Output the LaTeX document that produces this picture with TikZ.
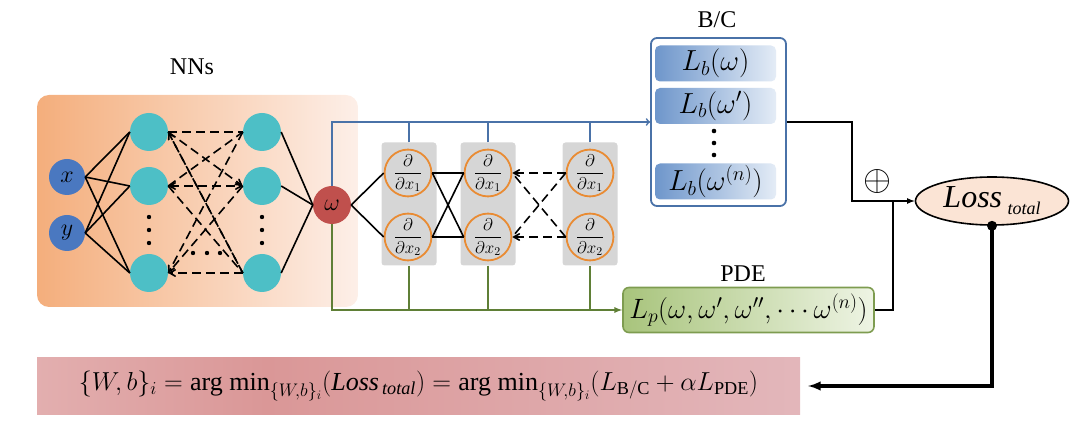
\documentclass[tikz,border=0pt]{standalone}
\usepackage{fix-cm}
\usepackage{amsmath,amssymb}
\usepackage{fontspec}
\setmainfont{Liberation Serif}
\usetikzlibrary{arrows,shapes.geometric,positioning,calc}
\definecolor{in blue}{HTML}{4A78C0}
\definecolor{hid teal}{HTML}{4DBFC6}
\definecolor{omega red}{HTML}{C0504D}
\definecolor{d orange}{HTML}{E98B33}
\definecolor{line blue}{HTML}{4A72A8}
\definecolor{line green}{HTML}{5F7F36}
\definecolor{bar blue}{HTML}{6E96CB}
\definecolor{bar light}{HTML}{E4ECF6}
\definecolor{pde dark}{HTML}{A8C47C}
\definecolor{pde light}{HTML}{EEF4E4}
\definecolor{pde edge}{HTML}{7E9C50}
\definecolor{loss fill}{HTML}{FBE4D5}
\definecolor{nn dark}{HTML}{F4AE7C}
\definecolor{nn light}{HTML}{FDEFE8}
\definecolor{pinkA}{HTML}{F1D6D7}
\definecolor{pinkB}{HTML}{DA9797}
\definecolor{pinkC}{HTML}{E9CDD4}
\pgfdeclarehorizontalshading{formulabar}{100bp}{color(0bp)=(pinkA); color(40bp)=(pinkB); color(100bp)=(pinkC)}
\tikzstyle{input}=[circle,fill=in blue,minimum size=36pt,inner sep=0pt]
\tikzstyle{hidden}=[circle,fill=hid teal,minimum size=38pt,inner sep=0pt]
\tikzstyle{output}=[circle,fill=omega red,minimum size=38pt,inner sep=0pt]
\tikzstyle{deriv}=[circle,draw=d orange,line width=1.8pt,minimum size=43pt,inner sep=0pt,font=\fontsize{17}{17}\selectfont]
\tikzstyle{grey col}=[fill=black!16,rounded corners=3pt,minimum width=55pt,minimum height=123pt]
\tikzstyle{loss bar}=[rounded corners=5pt,left color=bar blue,right color=bar light,minimum width=121pt,minimum height=36pt,inner sep=0pt,font=\fontsize{29}{29}\selectfont]
\tikzstyle{net}=[line width=1.6pt]
\tikzstyle{net dash}=[net,dash pattern=on 9pt off 5pt,>=angle 60]
\tikzstyle{blue feed}=[line blue,line width=1.7pt]
\tikzstyle{green feed}=[line green,line width=1.7pt]

\begin{document}
\begin{tikzpicture}[x=1pt,y=-1pt,font=\fontsize{24}{28}\selectfont,>=to]
    \useasboundingbox (0,0) rectangle (1080,438);

    % network
    \node[rounded corners=12pt,left color=nn dark,right color=nn light,minimum width=321pt,minimum height=212pt] (nnbg) at (197.5,201) {};
    \node (nnlabel) at (192,67) {NNs};

    \node[input] (x) at (67,177) {$x$};
    \node[input] (y) at (67,233) {$y$};
    \node[hidden] (h1a) at (149,132) {};
    \node[hidden] (h1b) at (149,186) {};
    \node[hidden] (h1c) at (149,273) {};
    \node[hidden] (h2a) at (262,132) {};
    \node[hidden] (h2b) at (262,186) {};
    \node[hidden] (h2c) at (262,273) {};
    \node[output] (w) at (332,205) {$\omega$};

    \fill (149,217) circle (2.2pt);
    \fill (149,230) circle (2.2pt);
    \fill (149,243) circle (2.2pt);
    \fill (262,217) circle (2.2pt);
    \fill (262,230) circle (2.2pt);
    \fill (262,243) circle (2.2pt);
    \fill (193,253) circle (2.2pt);
    \fill (207,253) circle (2.2pt);
    \fill (220,253) circle (2.2pt);

    \draw[net] (x.east) to (h1a.west);
    \draw[net] (x.east) to (h1b.west);
    \draw[net] (x.east) to (h1c.west);
    \draw[net] (y.east) to (h1a.west);
    \draw[net] (y.east) to (h1b.west);
    \draw[net] (y.east) to (h1c.west);

    \draw[net dash] (h1a.east) to (h2a.west);
    \draw[net dash,->] (h1a.east) to (h2b.west);
    \draw[net dash] (h1a.east) to (h2c.west);
    \draw[net dash,->] (h2c.west) to (h1a.east);
    \draw[net dash,<->] (h1b.east) to (h2b.west);
    \draw[net dash] (h1b.east) to (h2c.west);
    \draw[net dash] (h1b.east) to (h2a.west);
    \draw[net dash,->] (h2a.west) to (h1c.east);
    \draw[net dash] (h2b.west) to (h1c.east);
    \draw[net dash,->] (h2c.west) to (h1c.east);

    \draw[net] (h2a.east) to (w.west);
    \draw[net] (h2b.east) to (w.west);
    \draw[net] (h2c.east) to (w.west);

    % derivative columns
    \node[grey col] (g1) at (409,204) {};
    \node[grey col] (g2) at (488,204) {};
    \node[grey col] (g3) at (590,204) {};
    \node[deriv] (d1a) at (408,173) {$\dfrac{\partial}{\partial x_1}$};
    \node[deriv] (d1b) at (408,237) {$\dfrac{\partial}{\partial x_2}$};
    \node[deriv] (d2a) at (488,173) {$\dfrac{\partial}{\partial x_1}$};
    \node[deriv] (d2b) at (488,237) {$\dfrac{\partial}{\partial x_2}$};
    \node[deriv] (d3a) at (590,173) {$\dfrac{\partial}{\partial x_1}$};
    \node[deriv] (d3b) at (590,237) {$\dfrac{\partial}{\partial x_2}$};

    \draw[net] (w.east) to (d1a.west);
    \draw[net] (w.east) to (d1b.west);
    \draw[net] (d1a.east) to (d2a.west);
    \draw[net] (d1a.east) to (d2b.west);
    \draw[net] (d1b.east) to (d2a.west);
    \draw[net] (d1b.east) to (d2b.west);
    \draw[net dash,->] (d3a.west) to (d2a.east);
    \draw[net dash,->] (d3b.west) to (d2b.east);
    \draw[net dash] (d3a.west) to (d2b.east);
    \draw[net dash] (d3b.west) to (d2a.east);

    % B/C losses
    \node (bclabel) at (717,20) {B/C};
    \node[draw=line blue,line width=1.8pt,rounded corners=6pt,fill=white,minimum width=135pt,minimum height=168pt] (bc) at (718.5,122) {};
    \node[loss bar] (lb0) at (715.5,63.5) {$L_b(\omega)$};
    \node[loss bar] (lb1) at (715.5,106) {$L_b(\omega')$};
    \node[loss bar] (lbn) at (715.5,181.5) {$L_b(\omega^{(n)})$};
    \fill (714,131) circle (2.3pt);
    \fill (714,143) circle (2.3pt);
    \fill (714,155) circle (2.3pt);

    \draw[blue feed,->] (w.north) |- (bc.west);
    \draw[blue feed] (g1.north) to (g1.north |- bc.west);
    \draw[blue feed] (g2.north) to (g2.north |- bc.west);
    \draw[blue feed] (g3.north) to (g3.north |- bc.west);

    % PDE loss
    \node (pdelabel) at (743,274) {PDE};
    \node[rounded corners=6pt,draw=pde edge,line width=1.6pt,left color=pde dark,right color=pde light,minimum width=251pt,minimum height=45pt,font=\fontsize{28}{28}\selectfont] (pde) at (748.5,310) {$L_p(\omega,\omega',\omega'',\cdots\omega^{(n)})$};

    \draw[green feed,-latex] (w.south) |- (pde.west);
    \draw[green feed] (g1.south) to (g1.south |- pde.west);
    \draw[green feed] (g2.south) to (g2.south |- pde.west);
    \draw[green feed] (g3.south) to (g3.south |- pde.west);

    % total loss
    \node[ellipse,draw,line width=1.6pt,fill=loss fill,minimum width=153pt,minimum height=48pt,inner sep=0pt] (loss) at (992,201) {\fontsize{32}{32}\selectfont\textit{Loss}\,\raisebox{-7pt}{\fontsize{18}{18}\selectfont\textit{total}}};
    \node (plus) at (877,182) {\fontsize{36}{36}\selectfont$\oplus$};
    \coordinate (merge) at (893,201);
    \draw[net,-latex] (bc.east) -- ++(65,0) |- (loss.west);
    \draw[net] (pde.east) -| (merge);

    % objective
    \node[shade,shading=formulabar,minimum width=763pt,minimum height=57pt,font=\fontsize{26}{26}\selectfont] (formula) at (418.5,386) {$\{W,b\}_i=\text{arg min}_{\{W,b\}_i}(\textit{Loss}_{\,\textit{total}})=\text{arg min}_{\{W,b\}_i}(L_{\mathrm{B/C}}+\alpha L_{\mathrm{PDE}})$};
    \fill (loss.south) circle (5pt);
    \draw[line width=3.2pt,-latex] (loss.south) |- ([xshift=8pt]formula.east);
\end{tikzpicture}
\end{document}
